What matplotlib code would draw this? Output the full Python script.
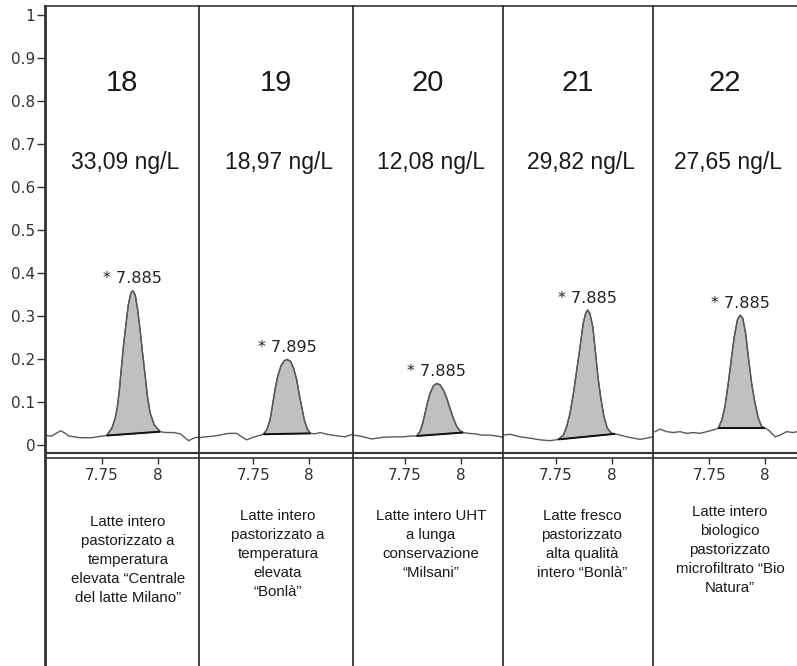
import matplotlib
matplotlib.use("Agg")
import matplotlib.pyplot as plt
import numpy as np

# ---------------- data ----------------
sample_ids = ["18", "19", "20", "21", "22"]
concentrations = ["33,09 ng/L", "18,97 ng/L", "12,08 ng/L", "29,82 ng/L", "27,65 ng/L"]
peak_labels = ["* 7.885", "* 7.895", "* 7.885", "* 7.885", "* 7.885"]
descriptions = [
    "Latte intero\npastorizzato a\ntemperatura\nelevata \u201cCentrale\ndel latte Milano\u201d",
    "Latte intero\npastorizzato a\ntemperatura\nelevata\n\u201cBonl\u00e0\u201d",
    "Latte intero UHT\na lunga\nconservazione\n\u201cMilsani\u201d",
    "Latte fresco\npastorizzato\nalta qualit\u00e0\nintero \u201cBonl\u00e0\u201d",
    "Latte intero\nbiologico\npastorizzato\nmicrofiltrato \u201cBio\nNatura\u201d",
]

rt18 = [7.498, 7.525, 7.547, 7.565, 7.583, 7.601, 7.651, 7.705, 7.741, 7.771, 7.794, 7.809,
        7.819, 7.828, 7.836, 7.846, 7.858, 7.868, 7.879, 7.888, 7.899, 7.909, 7.921, 7.932,
        7.944, 7.954, 7.966, 7.984, 8.011, 8.034, 8.071, 8.101, 8.124, 8.139, 8.161, 8.187]
int18 = [0.022, 0.021, 0.028, 0.033, 0.028, 0.021, 0.017, 0.017, 0.020, 0.022, 0.039, 0.062,
         0.089, 0.128, 0.174, 0.229, 0.283, 0.326, 0.353, 0.359, 0.349, 0.318, 0.267, 0.213,
         0.159, 0.112, 0.074, 0.047, 0.031, 0.029, 0.029, 0.026, 0.016, 0.010, 0.016, 0.019]

rt19 = [7.507, 7.519, 7.578, 7.638, 7.676, 7.698, 7.720, 7.750, 7.795, 7.810, 7.825, 7.835,
        7.847, 7.859, 7.874, 7.889, 7.902, 7.918, 7.931, 7.945, 7.955, 7.967, 7.979, 7.992,
        8.007, 8.027, 8.049, 8.072, 8.102, 8.131, 8.161, 8.184, 8.197]
int19 = [0.016, 0.018, 0.021, 0.027, 0.027, 0.019, 0.012, 0.018, 0.025, 0.035, 0.058, 0.089,
         0.128, 0.159, 0.184, 0.196, 0.199, 0.194, 0.178, 0.151, 0.120, 0.089, 0.058, 0.037,
         0.027, 0.026, 0.029, 0.026, 0.023, 0.021, 0.019, 0.023, 0.025]

rt20 = [7.518, 7.548, 7.601, 7.653, 7.698, 7.742, 7.780, 7.802, 7.817, 7.829, 7.840, 7.850,
        7.862, 7.877, 7.892, 7.907, 7.922, 7.937, 7.952, 7.967, 7.982, 7.997, 8.011, 8.034,
        8.064, 8.094, 8.131, 8.161, 8.188]
int20 = [0.023, 0.021, 0.014, 0.018, 0.019, 0.019, 0.021, 0.021, 0.031, 0.050, 0.074, 0.097,
         0.120, 0.137, 0.143, 0.140, 0.128, 0.109, 0.085, 0.062, 0.043, 0.033, 0.029, 0.027,
         0.026, 0.023, 0.023, 0.021, 0.018]

rt21 = [7.514, 7.544, 7.589, 7.633, 7.678, 7.723, 7.760, 7.783, 7.798, 7.813, 7.828, 7.843,
        7.858, 7.872, 7.883, 7.892, 7.902, 7.915, 7.926, 7.938, 7.950, 7.965, 7.980, 8.000,
        8.015, 8.037, 8.067, 8.097, 8.127, 8.157, 8.184]
int21 = [0.023, 0.025, 0.019, 0.016, 0.012, 0.010, 0.013, 0.023, 0.043, 0.074, 0.120, 0.174,
         0.229, 0.283, 0.306, 0.314, 0.306, 0.275, 0.221, 0.159, 0.112, 0.066, 0.039, 0.027,
         0.026, 0.023, 0.019, 0.016, 0.013, 0.016, 0.019]

rt22 = [7.507, 7.529, 7.559, 7.589, 7.619, 7.649, 7.678, 7.708, 7.738, 7.768, 7.790, 7.806,
        7.820, 7.835, 7.850, 7.862, 7.876, 7.888, 7.900, 7.913, 7.925, 7.940, 7.955, 7.970,
        7.985, 8.000, 8.015, 8.030, 8.045, 8.067, 8.097, 8.127, 8.143]
int22 = [0.031, 0.037, 0.031, 0.029, 0.031, 0.027, 0.029, 0.027, 0.031, 0.035, 0.039, 0.058,
         0.089, 0.143, 0.205, 0.252, 0.291, 0.302, 0.295, 0.260, 0.205, 0.143, 0.097, 0.062,
         0.043, 0.039, 0.035, 0.027, 0.019, 0.023, 0.031, 0.029, 0.031]

peak_windows = [(7.771, 8.011), (7.795, 8.007), (7.802, 8.011), (7.760, 8.015), (7.790, 8.000)]

yticks = [0, 0.1, 0.2, 0.3, 0.4, 0.5, 0.6, 0.7, 0.8, 0.9, 1]
ytick_labels = ["0", "0.1", "0.2", "0.3", "0.4", "0.5", "0.6", "0.7", "0.8", "0.9", "1"]
xticks = [7.75, 8]
xtick_labels = ["7.75", "8"]

traces = [(rt18, int18), (rt19, int19), (rt20, int20), (rt21, int21), (rt22, int22)]

# ---------------- layout ----------------
W, H = 797, 666
panel_left = [45, 199, 353, 503, 653]
panel_right = [199, 353, 503, 653, 797]
tick775_px = [102, 253.3, 405, 556, 709.3]
desc_top_px = [515, 509, 509, 509, 505]
desc_dx_px = [6, 2, 3, 4, 5]
px_per_min = 223.0
px_per_unit = 430.0
zero_px = 445.0
top_px = 6.0
ymax = (zero_px - top_px) / px_per_unit
ymin = -(H - zero_px) / px_per_unit
box_bottom = -(453 - zero_px) / px_per_unit
axis_line = -(458 - zero_px) / px_per_unit

ARIAL = ["Liberation Sans", "DejaVu Sans"]
VERD = ["DejaVu Sans"]
line_col = "#333333"

fig = plt.figure(figsize=(W / 100, H / 100), dpi=100)
fig.patch.set_facecolor("white")

for i in range(5):
    l, r = panel_left[i], panel_right[i]
    ax = fig.add_axes([l / W, 0, (r - l) / W, (H - top_px) / H])
    xmin = 7.75 - (tick775_px[i] - l) / px_per_min
    xmax = xmin + (r - l) / px_per_min
    ax.set_xlim(xmin, xmax)
    ax.set_ylim(ymin, ymax)
    ax.patch.set_alpha(0)

    for s in ["top", "left", "right", "bottom"]:
        ax.spines[s].set_color(line_col)
    ax.spines["right"].set_visible(False)
    ax.spines["top"].set_linewidth(1.2)
    ax.spines["left"].set_linewidth(2.0 if i == 0 else 1.3)
    ax.spines["bottom"].set_position(("data", axis_line))
    ax.spines["bottom"].set_linewidth(1.2)
    ax.axhline(box_bottom, color=line_col, lw=1.5, zorder=3)

    ax.set_xticks(xticks)
    ax.set_xticklabels(xtick_labels, fontfamily=VERD, fontsize=11, color="#333333")
    ax.tick_params(axis="x", direction="out", length=4, width=1, color=line_col, pad=3)
    if i == 0:
        ax.set_yticks(yticks)
        ax.set_yticklabels(ytick_labels, fontfamily=VERD, fontsize=11, color="#333333")
        ax.tick_params(axis="y", direction="out", length=6, width=1, color=line_col, pad=1)
    else:
        ax.set_yticks([])

    rt = np.array(traces[i][0])
    inten = np.array(traces[i][1])
    a, b = peak_windows[i]
    mask = (rt >= a - 1e-9) & (rt <= b + 1e-9)
    ax.fill(rt[mask], inten[mask], facecolor="#c0c0c0", edgecolor="#3a3a3a", lw=0.9, zorder=2)
    ax.plot(rt, inten, color="#5a5a5a", lw=1.0, zorder=2.5)
    idx = np.where(mask)[0]
    ax.plot([rt[idx[0]], rt[idx[-1]]], [inten[idx[0]], inten[idx[-1]]], color="#111111", lw=1.4,
            zorder=2.6, solid_capstyle="butt")

    k = int(np.argmax(inten))
    ax.annotate(peak_labels[i], xy=(rt[k], inten[k]), xytext=(0, 3), textcoords="offset points",
                ha="center", va="bottom", fontsize=11.5, fontfamily=VERD, color="#222222")

    ytf = ax.get_yaxis_transform()
    ax.text(0.5, (zero_px - 83) / px_per_unit, sample_ids[i], transform=ytf, ha="center",
            va="center", fontsize=21, fontfamily=ARIAL, color="#1a1a1a")
    ax.text(0.5 + 3 / (r - l), (zero_px - 162) / px_per_unit, concentrations[i], transform=ytf,
            ha="center", va="center", fontsize=16.5, fontfamily=ARIAL, color="#1a1a1a")
    ax.text(0.5 + desc_dx_px[i] / (r - l), (zero_px - desc_top_px[i]) / px_per_unit, descriptions[i],
            transform=ytf, ha="center", va="top", fontsize=10.8, fontfamily=ARIAL,
            color="#1a1a1a", linespacing=1.45, multialignment="center")

fig.savefig("out.png", dpi=100)
